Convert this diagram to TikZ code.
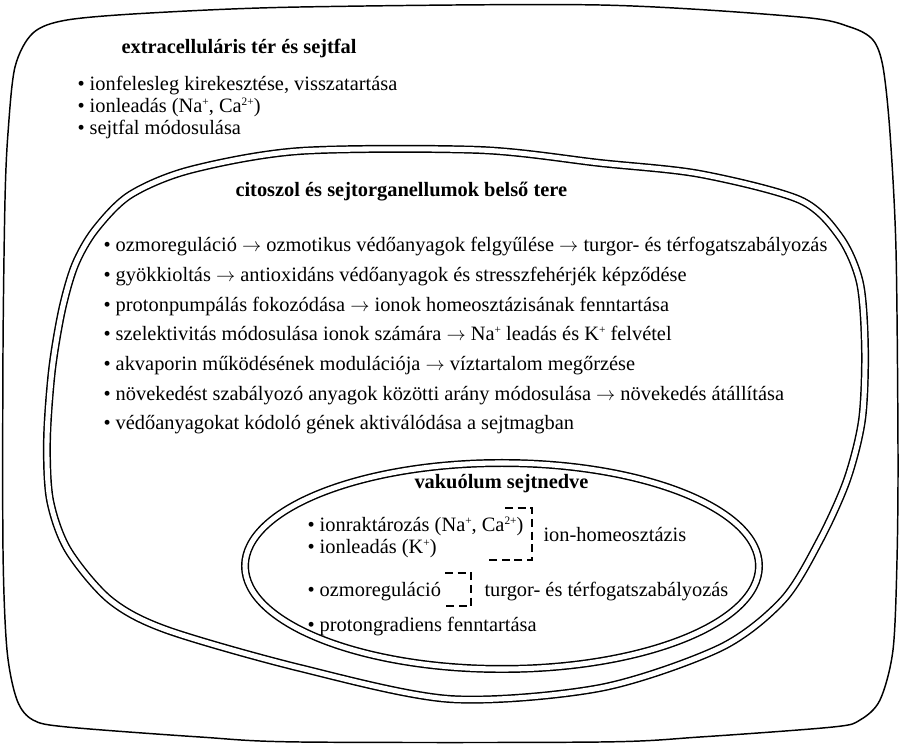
\documentclass[tikz,border=0pt]{standalone}
\usepackage{fontspec}
\setmainfont{Liberation Serif}

\tikzset{every picture/.style={line width=0.75pt}}
\tikzset{
  txt/.style={anchor=base west, inner sep=0pt, font=\fontsize{15.3}{18}\selectfont},
  head/.style={anchor=base west, inner sep=0pt, font=\fontsize{15.3}{18}\selectfont\bfseries},
  membrane/.style={double, line width=1.1pt, double distance=3.8pt},
  brack/.style={line width=1.1pt, dash pattern=on 6pt off 3.5pt}
}
\newcommand{\ionsup}[1]{\raisebox{0.8ex}{\fontsize{8.5}{9}\selectfont #1}}
\newcommand{\ra}{$\rightarrow$}

\begin{document}
\begin{tikzpicture}[x=0.75pt,y=0.75pt,yscale=-1,xscale=1]
\useasboundingbox (0,0) rectangle (901,748); %set diagram left start at 0, and has height of 748

%Shape: Cell wall [id:outer]
\draw [line width=1.1pt] plot [smooth cycle] coordinates {(33,33) (67,20) (150,13) (300,7) (600,5) (800,17) (850,27) (873,40) (883,67) (890,133) (896,250) (898,450) (897,560) (893,650) (880,700) (860,720) (833,727) (700,737) (600,742) (300,742) (200,737) (67,727) (33,720) (17,700) (7,650) (3,550) (3,350) (5,200) (8,133) (15,67)};
%Shape: Membrane [id:middle]
\draw [membrane] plot [smooth cycle] coordinates {(95,230) (130,195) (190,170) (300,151) (480,150) (600,163) (700,174) (800,200) (840,237) (860,283) (865,350) (862,420) (847,480) (820,540) (783,600) (720,648) (600,688) (450,699) (300,668) (167,630) (110,600) (68,550) (50,500) (47,440) (52,370) (62,310) (75,265)};
%Shape: Ellipse [id:vacuole]
\draw [membrane] (502,566) ellipse (257 and 103);

%Dashed brackets
\draw [brack] (505,508) -- (532,508) -- (532,560) -- (487,560);
\draw [brack] (445,573) -- (471,573) -- (471,606) -- (445,606);

% Text Node
\draw (121,54) node (exthead) [head] {extracelluláris tér és sejtfal};
% Text Node
\draw (77,91) node (ext1) [txt] {• ionfelesleg kirekesztése, visszatartása};
\draw (77,113) node (ext2) [txt] {• ionleadás (Na\ionsup{+}, Ca\ionsup{2+})};
\draw (77,135) node (ext3) [txt] {• sejtfal módosulása};

% Text Node
\draw (235,197) node (cythead) [head] {citoszol és sejtorganellumok belső tere};
% Text Node
\draw (103,252) node (cyt1) [txt] {• ozmoreguláció \ra{} ozmotikus védőanyagok felgyűlése \ra{} turgor- és térfogatszabályozás};
\draw (103,281.7) node (cyt2) [txt] {• gyökkioltás \ra{} antioxidáns védőanyagok és stresszfehérjék képződése};
\draw (103,311.4) node (cyt3) [txt] {• protonpumpálás fokozódása \ra{} ionok homeosztázisának fenntartása};
\draw (103,341) node (cyt4) [txt] {• szelektivitás módosulása ionok számára \ra{} Na\ionsup{+} leadás és K\ionsup{+} felvétel};
\draw (103,370.8) node (cyt5) [txt] {• akvaporin működésének modulációja \ra{} víztartalom megőrzése};
\draw (103,400.5) node (cyt6) [txt] {• növekedést szabályozó anyagok közötti arány módosulása \ra{} növekedés átállítása};
\draw (103,430) node (cyt7) [txt] {• védőanyagokat kódoló gének aktiválódása a sejtmagban};

% Text Node
\draw (414,489) node (vakhead) [head] {vakuólum sejtnedve};
% Text Node
\draw (307,532) node (vak1) [txt] {• ionraktározás (Na\ionsup{+}, Ca\ionsup{2+})};
\draw (307,554) node (vak2) [txt] {• ionleadás (K\ionsup{+})};
\draw (307,597) node (vak3) [txt] {• ozmoreguláció};
\draw (307,632) node (vak4) [txt] {• protongradiens fenntartása};
% Text Node
\draw (543,542) node (ionhom) [txt] {ion-homeosztázis};
\draw (484,597) node (turgor) [txt] {turgor- és térfogatszabályozás};

\end{tikzpicture}
\end{document}
